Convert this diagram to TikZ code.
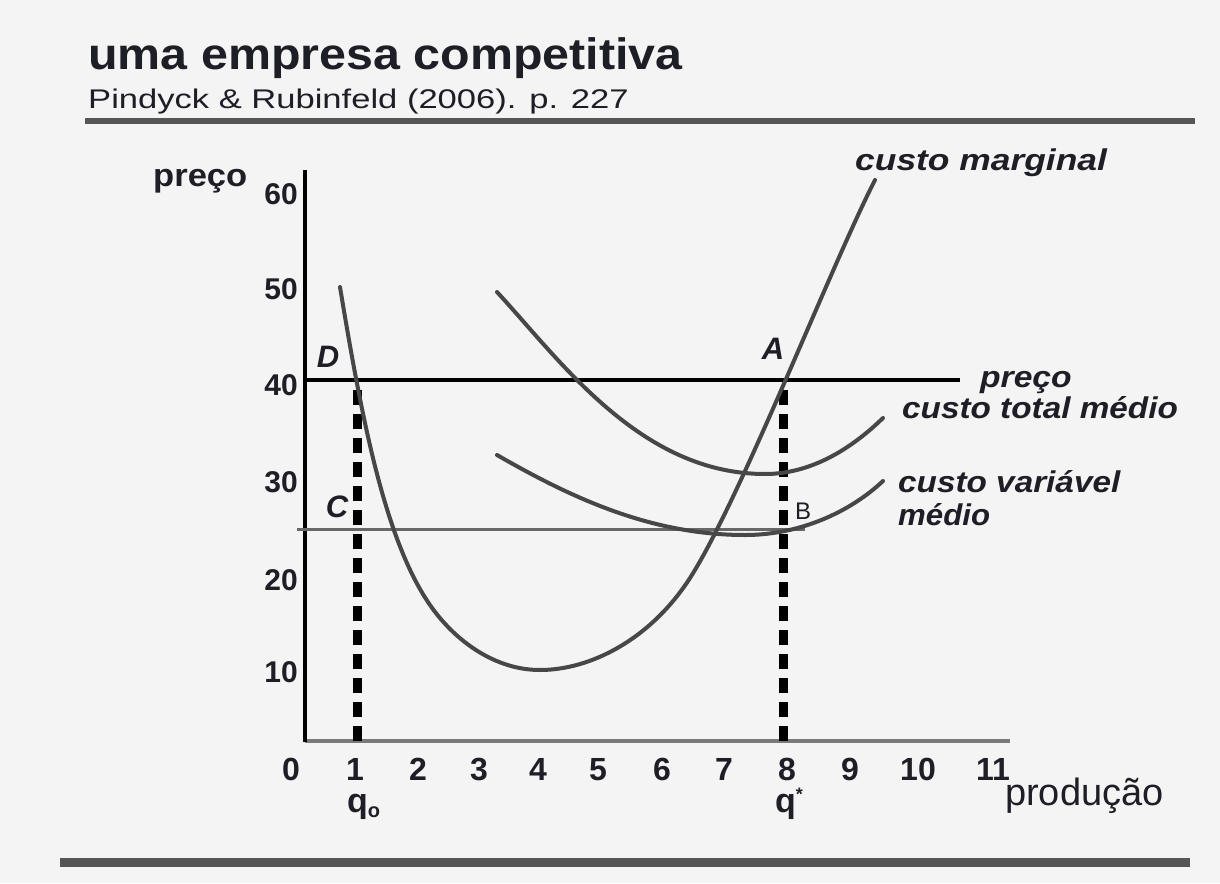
\documentclass[tikz,border=0pt]{standalone}
\usepackage{fontspec}
\setmainfont{Liberation Sans}
\definecolor{bg}{HTML}{F4F4F4}
\definecolor{txt}{HTML}{1E1E26}
\definecolor{crv}{HTML}{474747}
\definecolor{rule}{HTML}{555555}
\definecolor{xax}{HTML}{7A7A7A}
\newcommand\myfs[1]{\fontsize{#1}{#1}\selectfont}
\begin{document}
\begin{tikzpicture}[x=1pt,y=-1pt,
  lbl/.style={inner sep=0pt, text=txt},
  tick/.style={lbl, font=\myfs{30}\bfseries},
  xtick/.style={lbl, anchor=base, font=\myfs{32}\bfseries},
  clabel/.style={lbl, anchor=base west, font=\myfs{30}\bfseries\itshape},
  pt/.style={lbl, font=\myfs{31}\bfseries\itshape},
  curve/.style={draw=crv, line width=4pt, line cap=round},
  vdash/.style={draw=black, line width=9pt, dash pattern=on 15pt off 9pt},
]
\fill[bg] (0,0) rectangle (1220,883);
\useasboundingbox (0,0) rectangle (1220,883);

% header
\node[lbl, anchor=base west] (title) at (88,70) {\myfs{44}\bfseries\scalebox{1.1}[1]{uma empresa competitiva}};
\node[lbl, anchor=base west] (sub) at (88,108) {\myfs{27}\scalebox{1.28}[1]{Pindyck \& Rubinfeld (2006). p. 227}};
\draw[rule, line width=6pt] (85,121) -- (1195,121);
\draw[rule, line width=9pt] (60,862) -- (1190,862);

% axes
\coordinate (O) at (305,741);
\coordinate (ytop) at (305,170);
\coordinate (xend) at (1010,741);
\draw[xax, line width=3.5pt] (O) -- (xend);
\draw[black, line width=3.5pt] (ytop) -- (305,742);

% horizontal lines
\coordinate (P0) at (303,380);
\coordinate (P1) at (960,380);
\draw[black, line width=4pt] (P0) -- (P1);
\coordinate (L0) at (297,529);
\coordinate (L1) at (805,529);
\draw[xax!85!black, line width=3pt] (L0) -- (L1);

% dashed verticals
\coordinate (D1) at (357,382);
\coordinate (D0) at (357,741);
\coordinate (A1) at (783,382);
\coordinate (A0) at (783,741);
\draw[vdash] (D0) -- (D1);
\draw[vdash] (A0) -- (A1);

% curves
% custo marginal
\draw[curve] (340,287) .. controls (362,420) and (385,540) .. (430,605)
  .. controls (455,641) and (495,670) .. (540,670)
  .. controls (590,670) and (650,640) .. (690,578)
  .. controls (740,500) and (830,268) .. (875,180);
% custo total medio
\draw[curve] (497,292) .. controls (560,360) and (640,474) .. (765,474)
  .. controls (810,474) and (850,450) .. (883,418);
% custo variavel medio
\draw[curve] (497,455) .. controls (570,497) and (650,535) .. (745,535)
  .. controls (800,535) and (850,512) .. (883,481);

% y tick labels
\node[tick, anchor=east] (y60) at (298,194) {60};
\node[tick, anchor=east] (y50) at (298,289) {50};
\node[tick, anchor=east] (y40) at (298,385) {40};
\node[tick, anchor=east] (y30) at (298,482) {30};
\node[tick, anchor=east] (y20) at (298,580) {20};
\node[tick, anchor=east] (y10) at (298,672) {10};

% x tick labels
\node[xtick] (x0) at (291,780) {0};
\node[xtick] (x1) at (355,780) {1};
\node[xtick] (x2) at (418,780) {2};
\node[xtick] (x3) at (479,780) {3};
\node[xtick] (x4) at (538,780) {4};
\node[xtick] (x5) at (598,780) {5};
\node[xtick] (x6) at (662,780) {6};
\node[xtick] (x7) at (724,780) {7};
\node[xtick] (x8) at (787,780) {8};
\node[xtick] (x9) at (850,780) {9};
\node[xtick] (x10) at (918,780) {10};
\node[xtick] (x11) at (993,780) {11};

% axis titles
\node[lbl, anchor=base west] (ylab) at (153,186) {\myfs{32}\bfseries\scalebox{1.08}[1]{preço}};
\node[lbl, anchor=base west] (xlab) at (1005,805) {\myfs{38}produção};
\node[lbl, anchor=base west] (q0) at (347,812) {\myfs{34}\bfseries q\raisebox{-5pt}{\myfs{20}o}};
\node[lbl, anchor=base west] (q1) at (775,812) {\myfs{34}\bfseries q\raisebox{12pt}{\myfs{18}*}};

% point labels
\node[pt] (lD) at (328,357) {D};
\node[pt] (lA) at (773,349) {A};
\node[pt] (lC) at (337,507) {C};
\node[lbl, font=\myfs{24}] (lB) at (803,511) {B};

% curve labels
\node[clabel] (cmg) at (855,170) {\scalebox{1.18}[1]{custo marginal}};
\node[clabel] (cpr) at (980,387) {\scalebox{1.12}[1]{preço}};
\node[clabel] (ctm) at (902,418) {\scalebox{1.11}[1]{custo total médio}};
\node[clabel] (cvm) at (898,492) {\scalebox{1.11}[1]{custo variável}};
\node[clabel] (cvm2) at (898,525) {\scalebox{1.04}[1]{médio}};
\end{tikzpicture}
\end{document}
